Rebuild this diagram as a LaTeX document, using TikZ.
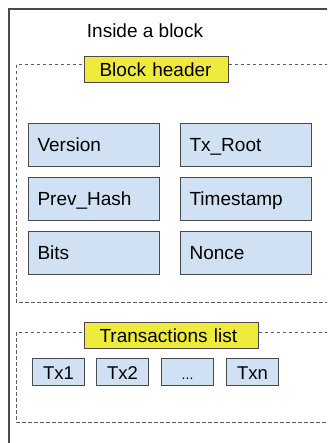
\documentclass[tikz,border=0pt]{standalone}
\usepackage{fontspec}
\setmainfont{Liberation Sans}
\definecolor{fieldblue}{HTML}{CFE1F2}
\definecolor{labelyellow}{HTML}{EEEB3C}
\definecolor{edgegray}{HTML}{4A4A4A}
\begin{document}
\begin{tikzpicture}[x=1pt,y=-1pt,
  field/.style={draw=edgegray,line width=1.1pt,fill=fieldblue,minimum height=43pt,minimum width=131pt,
     inner sep=0pt,text width=113pt,text height=14pt,text depth=0.5pt,align=left,font=\fontsize{19}{22}\selectfont,anchor=north west},
  txbox/.style={draw=edgegray,line width=1.1pt,fill=fieldblue,minimum height=27pt,minimum width=52pt,
     inner sep=0pt,text height=15.5pt,text depth=0.5pt,font=\fontsize{18.5}{20}\selectfont,anchor=north west},
  tag/.style={draw=edgegray,line width=1.1pt,fill=labelyellow,minimum height=26pt,inner sep=0pt,
     text width=#1,text height=14.5pt,text depth=0.5pt,align=left,font=\fontsize{19}{22}\selectfont,anchor=north west},
  group/.style={draw=edgegray!90,dash pattern=on 3.5pt off 2.5pt,line width=1pt},
  outer/.style={draw=edgegray,line width=1.2pt}]
\useasboundingbox (0,0) rectangle (327,443);
\begin{scope}
\clip (0,0) rectangle (327,443);
\draw[outer] (9,9) rectangle (340,460);
\draw[group] (16,65) rectangle (340,302);
\draw[group] (16,332) rectangle (340,422);
\end{scope}
\node[font=\fontsize{19}{22}\selectfont] (title) at (145,31) {Inside a block};
\node[tag=134pt,minimum width=144pt] (hdr) at (84,56) {\hspace*{10pt}Block header};
\node[field] (version) at (28,123) {Version};
\node[field] (txroot) at (180,123) {Tx\_Root};
\node[field] (prevhash) at (28,177) {Prev\_Hash};
\node[field] (timestamp) at (180,177) {Timestamp};
\node[field] (bits) at (28,231) {Bits};
\node[field] (nonce) at (180,231) {Nonce};
\node[tag=164pt,minimum width=174pt] (txlist) at (84,322) {\hspace*{10pt}Transactions list};
\node[txbox] (tx1) at (32,358) {Tx1};
\node[txbox] (tx2) at (96,358) {Tx2};
\node[txbox] (dots) at (161,358) {\fontsize{14}{16}\selectfont .{}.{}.};
\node[txbox] (txn) at (226,358) {Txn};
\end{tikzpicture}
\end{document}
